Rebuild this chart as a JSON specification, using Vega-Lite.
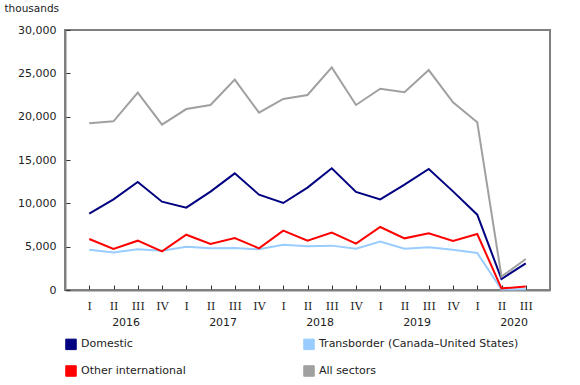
{
  "$schema": "https://vega.github.io/schema/vega-lite/v6.json",
  "width": 485,
  "height": 260,
  "autosize": "none",
  "padding": {"left": 65, "top": 30, "right": 30, "bottom": 95},
  "background": "white",
  "config": {
    "view": {"stroke": "#808080", "strokeWidth": 2},
    "font": "DejaVu Sans",
    "axis": {"grid": false, "domainColor": "#808080", "domainWidth": 2, "tickColor": "#333333", "labelColor": "#222222", "labelFontSize": 11}
  },
  "layer": [
    {
      "data": {
        "values": [
          {"i": 0, "series": "Domestic", "value": 8810},
          {"i": 1, "series": "Domestic", "value": 10460},
          {"i": 2, "series": "Domestic", "value": 12460},
          {"i": 3, "series": "Domestic", "value": 10190},
          {"i": 4, "series": "Domestic", "value": 9500},
          {"i": 5, "series": "Domestic", "value": 11350},
          {"i": 6, "series": "Domestic", "value": 13460},
          {"i": 7, "series": "Domestic", "value": 11000},
          {"i": 8, "series": "Domestic", "value": 10040},
          {"i": 9, "series": "Domestic", "value": 11810},
          {"i": 10, "series": "Domestic", "value": 14040},
          {"i": 11, "series": "Domestic", "value": 11310},
          {"i": 12, "series": "Domestic", "value": 10460},
          {"i": 13, "series": "Domestic", "value": 12150},
          {"i": 14, "series": "Domestic", "value": 13960},
          {"i": 15, "series": "Domestic", "value": 11380},
          {"i": 16, "series": "Domestic", "value": 8690},
          {"i": 17, "series": "Domestic", "value": 1270},
          {"i": 18, "series": "Domestic", "value": 3080},
          {"i": 0, "series": "Transborder (Canada–United States)", "value": 4650},
          {"i": 1, "series": "Transborder (Canada–United States)", "value": 4340},
          {"i": 2, "series": "Transborder (Canada–United States)", "value": 4690},
          {"i": 3, "series": "Transborder (Canada–United States)", "value": 4540},
          {"i": 4, "series": "Transborder (Canada–United States)", "value": 5000},
          {"i": 5, "series": "Transborder (Canada–United States)", "value": 4810},
          {"i": 6, "series": "Transborder (Canada–United States)", "value": 4850},
          {"i": 7, "series": "Transborder (Canada–United States)", "value": 4690},
          {"i": 8, "series": "Transborder (Canada–United States)", "value": 5230},
          {"i": 9, "series": "Transborder (Canada–United States)", "value": 5040},
          {"i": 10, "series": "Transborder (Canada–United States)", "value": 5120},
          {"i": 11, "series": "Transborder (Canada–United States)", "value": 4770},
          {"i": 12, "series": "Transborder (Canada–United States)", "value": 5580},
          {"i": 13, "series": "Transborder (Canada–United States)", "value": 4770},
          {"i": 14, "series": "Transborder (Canada–United States)", "value": 4920},
          {"i": 15, "series": "Transborder (Canada–United States)", "value": 4650},
          {"i": 16, "series": "Transborder (Canada–United States)", "value": 4270},
          {"i": 17, "series": "Transborder (Canada–United States)", "value": 60},
          {"i": 18, "series": "Transborder (Canada–United States)", "value": 100},
          {"i": 0, "series": "Other international", "value": 5880},
          {"i": 1, "series": "Other international", "value": 4730},
          {"i": 2, "series": "Other international", "value": 5690},
          {"i": 3, "series": "Other international", "value": 4460},
          {"i": 4, "series": "Other international", "value": 6380},
          {"i": 5, "series": "Other international", "value": 5310},
          {"i": 6, "series": "Other international", "value": 6000},
          {"i": 7, "series": "Other international", "value": 4810},
          {"i": 8, "series": "Other international", "value": 6850},
          {"i": 9, "series": "Other international", "value": 5690},
          {"i": 10, "series": "Other international", "value": 6620},
          {"i": 11, "series": "Other international", "value": 5350},
          {"i": 12, "series": "Other international", "value": 7270},
          {"i": 13, "series": "Other international", "value": 5960},
          {"i": 14, "series": "Other international", "value": 6540},
          {"i": 15, "series": "Other international", "value": 5650},
          {"i": 16, "series": "Other international", "value": 6460},
          {"i": 17, "series": "Other international", "value": 190},
          {"i": 18, "series": "Other international", "value": 390},
          {"i": 0, "series": "All sectors", "value": 19230},
          {"i": 1, "series": "All sectors", "value": 19460},
          {"i": 2, "series": "All sectors", "value": 22770},
          {"i": 3, "series": "All sectors", "value": 19080},
          {"i": 4, "series": "All sectors", "value": 20880},
          {"i": 5, "series": "All sectors", "value": 21350},
          {"i": 6, "series": "All sectors", "value": 24270},
          {"i": 7, "series": "All sectors", "value": 20460},
          {"i": 8, "series": "All sectors", "value": 22040},
          {"i": 9, "series": "All sectors", "value": 22500},
          {"i": 10, "series": "All sectors", "value": 25690},
          {"i": 11, "series": "All sectors", "value": 21350},
          {"i": 12, "series": "All sectors", "value": 23230},
          {"i": 13, "series": "All sectors", "value": 22810},
          {"i": 14, "series": "All sectors", "value": 25380},
          {"i": 15, "series": "All sectors", "value": 21650},
          {"i": 16, "series": "All sectors", "value": 19350},
          {"i": 17, "series": "All sectors", "value": 1540},
          {"i": 18, "series": "All sectors", "value": 3580}
        ]
      },
      "mark": {"type": "line", "strokeWidth": 2},
      "encoding": {
        "x": {
          "field": "i", "type": "quantitative",
          "scale": {"domain": [-1, 19], "nice": false, "zero": false},
          "axis": {
            "orient": "bottom", "title": null,
            "values": [0,1,2,3,4,5,6,7,8,9,10,11,12,13,14,15,16,17,18],
            "labelExpr": "['I','II','III','IV'][datum.value % 4]",
            "labelFont": "DejaVu Serif", "labelFontSize": 11,
            "tickSize": -5, "labelPadding": 15, "labelFlush": false, "labelOverlap": false
          }
        },
        "y": {
          "field": "value", "type": "quantitative",
          "scale": {"domain": [0, 30000], "nice": false},
          "axis": {
            "values": [0, 5000, 10000, 15000, 20000, 25000, 30000],
            "format": ",.0f", "tickSize": -5, "labelPadding": 14,
            "title": "thousands", "titleAngle": 0, "titleAlign": "left", "titleBaseline": "alphabetic",
            "titleX": -61, "titleY": -19, "titleFontWeight": "normal", "titleFontSize": 10.5, "titleColor": "#222222"
          }
        },
        "color": {
          "field": "series", "type": "nominal",
          "scale": {
            "domain": ["Domestic", "Transborder (Canada–United States)", "Other international", "All sectors"],
            "range": ["#000080", "#99ccff", "#ff0000", "#a0a0a0"]
          },
          "legend": {
            "title": null, "orient": "none", "legendX": 0, "legendY": 308,
            "direction": "horizontal", "columns": 2, "columnPadding": 115, "rowPadding": 11,
            "symbolType": "square", "symbolSize": 110, "symbolStrokeWidth": 1, "symbolOpacity": 1,
            "labelFontSize": 11, "labelColor": "#222222", "labelOffset": 4, "labelLimit": 300,
            "encode": {
              "symbols": {
                "update": {
                  "fill": {"scale": "color", "field": "value"},
                  "stroke": {"value": "#333333"},
                  "strokeWidth": {"value": 1}
                }
              }
            }
          }
        }
      }
    },
    {
      "data": {
        "values": [
          {"yi": 1.5, "year": "2016"},
          {"yi": 5.5, "year": "2017"},
          {"yi": 9.5, "year": "2018"},
          {"yi": 13.5, "year": "2019"},
          {"yi": 17.5, "year": "2020"}
        ]
      },
      "mark": {"type": "point", "opacity": 0},
      "encoding": {
        "x": {
          "field": "yi", "type": "quantitative",
          "scale": {"domain": [-1, 19], "nice": false, "zero": false},
          "axis": {
            "orient": "bottom", "title": null, "domain": false, "ticks": false,
            "values": [1.5, 5.5, 9.5, 13.5, 17.5],
            "labelExpr": "'' + (2016 + floor(datum.value / 4))",
            "labelPadding": 26, "labelFontSize": 11, "labelFlush": false
          }
        }
      }
    }
  ],
  "resolve": {"scale": {"x": "independent"}}
}
